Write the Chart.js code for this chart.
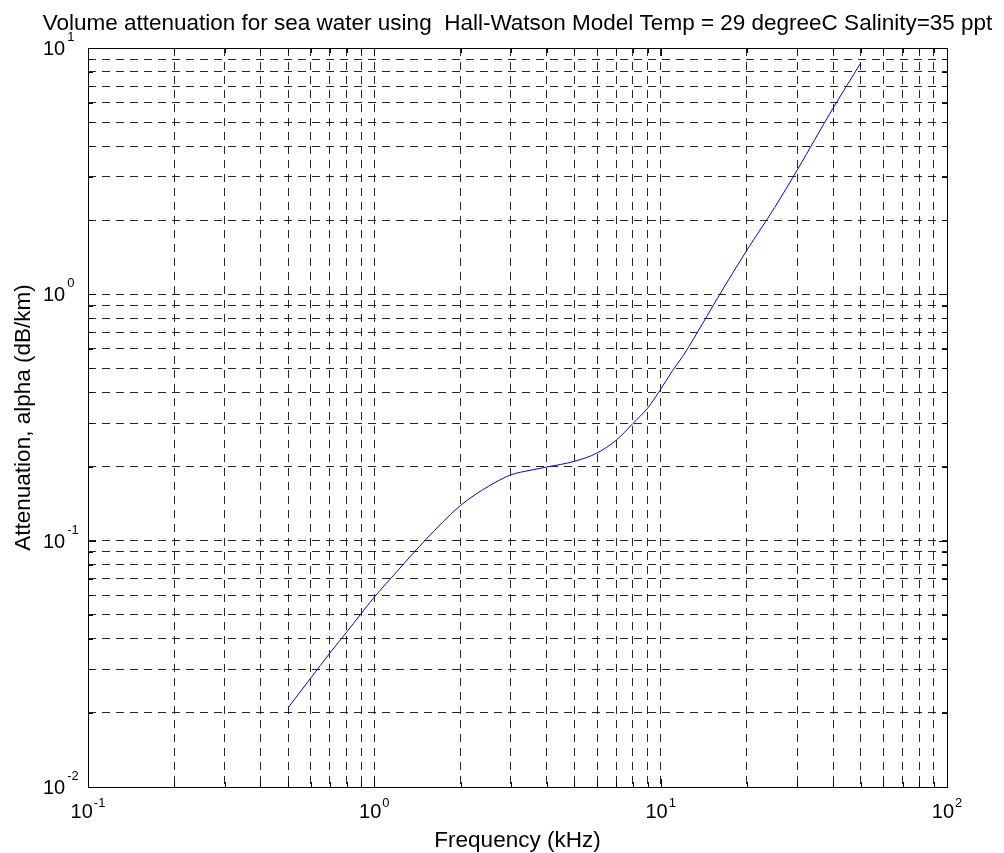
<!DOCTYPE html>
<html lang="en">

<head>
    <meta charset="UTF-8">
    <title>Volume attenuation for sea water</title>
    <style>
        body {
            margin: 0;
            background: #fff;
        }

        #attnChart {
            display: block;
        }
    </style>
</head>

<body>
    <canvas id="attnChart" width="1004" height="853"></canvas>
    <script type="text/javascript" src="https://cdn.jsdelivr.net/npm/chart.js@4/dist/chart.umd.min.js"></script>
    <script type="text/javascript">
        // Hall-Watson volume attenuation, T = 29 C, S = 35 ppt
        const freqKHz = [0.5, 0.6, 0.7, 0.8, 1, 1.2, 1.5, 2, 2.5, 3, 3.5, 4, 5, 6, 7, 8, 9, 10, 11, 12, 14, 16, 20, 25, 30, 40, 50];
        const alphaDbKm = [0.021, 0.0277, 0.035, 0.0425, 0.059, 0.075, 0.1, 0.139, 0.166, 0.185, 0.193, 0.199, 0.21, 0.227, 0.256, 0.299, 0.345, 0.412, 0.49, 0.565, 0.76, 0.99, 1.51, 2.25, 3.2, 5.7, 8.7];

        // decade ticks and their exponent labels
        const xDecades = [0.1, 1, 10, 100];
        const xExponents = ["-1", "0", "1", "2"];
        const yDecades = [0.01, 0.1, 1, 10];
        const yExponents = ["-2", "-1", "0", "1"];

        const titleText = "Volume attenuation for sea water using  Hall-Watson Model Temp = 29 degreeC Salinity=35 ppt";
        const xTitle = "Frequency (kHz)";
        const yTitle = "Attenuation, alpha (dB/km)";

        const FONT = "'Liberation Sans', Arial, Helvetica, sans-serif";

        // 1..9 x each decade, for the grid lines
        const gridValues = decades => {
            const vals = [];
            decades.forEach((d, i) => {
                if (i === decades.length - 1) {
                    vals.push(d);
                    return;
                }
                for (let m = 1; m <= 9; m++) vals.push(+(m * d).toPrecision(3));
            });
            return vals;
        };
        const xGrid = gridValues(xDecades);
        const yGrid = gridValues(yDecades);

        const isDecade = v => Math.abs(Math.log10(v) - Math.round(Math.log10(v))) < 1e-9;

        // box, inward tick marks and the text (with superscript exponents)
        const matlabFrame = {
            id: "matlabFrame",
            afterDraw(chart) {
                const { ctx, chartArea: a, scales: { x, y } } = chart;
                ctx.save();
                ctx.strokeStyle = "#000";
                ctx.lineWidth = 1;
                ctx.setLineDash([]);
                ctx.strokeRect(Math.round(a.left) + 0.5, Math.round(a.top) + 0.5,
                    Math.round(a.right - a.left), Math.round(a.bottom - a.top));

                ctx.beginPath();
                xGrid.forEach(v => {
                    const px = Math.round(x.getPixelForValue(v)) + 0.5;
                    const len = isDecade(v) ? 8 : 5;
                    ctx.moveTo(px, a.bottom);
                    ctx.lineTo(px, a.bottom - len);
                    ctx.moveTo(px, a.top);
                    ctx.lineTo(px, a.top + len);
                });
                yGrid.forEach(v => {
                    const py = Math.round(y.getPixelForValue(v)) + 0.5;
                    const len = isDecade(v) ? 8 : 5;
                    ctx.moveTo(a.left, py);
                    ctx.lineTo(a.left + len, py);
                    ctx.moveTo(a.right, py);
                    ctx.lineTo(a.right - len, py);
                });
                ctx.stroke();

                ctx.fillStyle = "#000";
                ctx.textBaseline = "alphabetic";
                const big = "20px " + FONT;
                const small = "13px " + FONT;

                xDecades.forEach((v, i) => {
                    const px = x.getPixelForValue(v);
                    ctx.font = big;
                    const w1 = ctx.measureText("10").width;
                    ctx.font = small;
                    const w2 = ctx.measureText(xExponents[i]).width;
                    const start = px - (w1 + w2 + 1) / 2;
                    ctx.textAlign = "left";
                    ctx.font = big;
                    ctx.fillText("10", start, a.bottom + 31);
                    ctx.font = small;
                    ctx.fillText(xExponents[i], start + w1 + 1, a.bottom + 20);
                });

                yDecades.forEach((v, i) => {
                    const py = y.getPixelForValue(v);
                    ctx.textAlign = "left";
                    ctx.font = big;
                    const w1 = ctx.measureText("10").width;
                    ctx.fillText("10", 43, py + 7);
                    ctx.font = small;
                    ctx.fillText(yExponents[i], 43 + w1 + 2, py - 7);
                });

                const cx = (a.left + a.right) / 2;
                ctx.textAlign = "center";
                ctx.font = "22.5px " + FONT;
                ctx.fillText(titleText, cx, 30);
                ctx.fillText(xTitle, cx, a.bottom + 60);

                ctx.translate(30, (a.top + a.bottom) / 2);
                ctx.rotate(-Math.PI / 2);
                ctx.fillText(yTitle, 0, 0);
                ctx.restore();
            }
        };

        const ctx = document.getElementById("attnChart").getContext("2d");

        const gridScale = (values, min, max) => ({
            type: "logarithmic",
            min: min,
            max: max,
            afterBuildTicks: scale => {
                scale.ticks = values.map(v => ({ value: v }));
            },
            afterFit: scale => {
                if (scale.isHorizontal()) scale.height = 0;
                else scale.width = 0;
            },
            ticks: { display: false, autoSkip: false },
            grid: { color: "rgba(0,0,0,0.85)", lineWidth: 1, drawTicks: false, tickLength: 0 },
            border: { display: false, dash: [8, 6] }
        });

        const attnChart = new Chart(ctx, {
            type: "line",
            data: {
                datasets: [{
                    data: freqKHz.map((f, i) => ({ x: f, y: alphaDbKm[i] })),
                    borderColor: "#0000ff",
                    borderWidth: 1,
                    pointRadius: 0,
                    cubicInterpolationMode: "monotone",
                    fill: false
                }]
            },
            options: {
                responsive: false,
                animation: false,
                layout: { padding: { left: 88, top: 48, right: 57, bottom: 66 } },
                plugins: {
                    legend: { display: false },
                    title: { display: false },
                    tooltip: { enabled: false }
                },
                scales: {
                    x: gridScale(xGrid, 0.1, 100),
                    y: gridScale(yGrid, 0.01, 10)
                }
            },
            plugins: [matlabFrame]
        });
    </script>
</body>

</html>
